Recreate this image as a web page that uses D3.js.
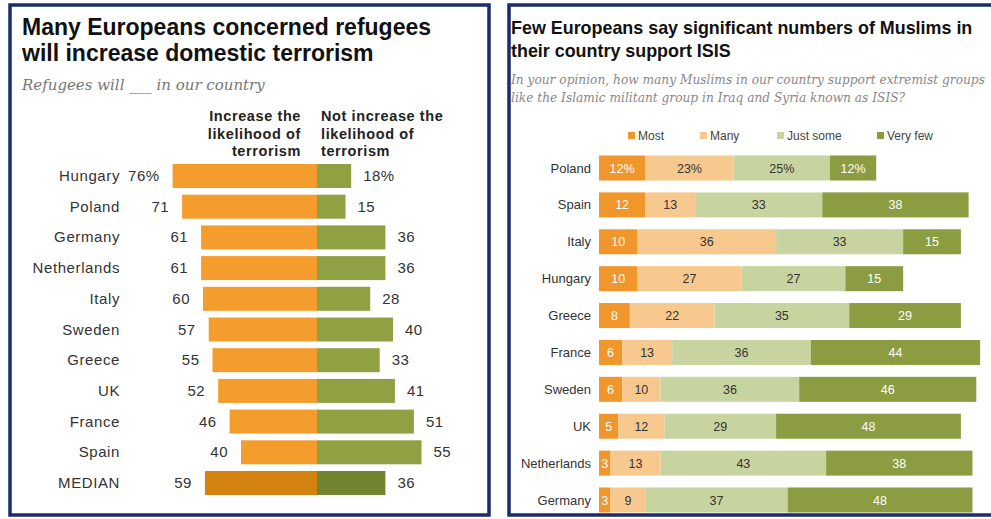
<!DOCTYPE html>
<html>
<head>
<meta charset="utf-8">
<script src="https://cdn.jsdelivr.net/npm/d3@7"></script>
<style>
  body { margin: 0; background: #fff; }
  svg { display: block; font-family: "Liberation Sans", Arial, sans-serif; }
</style>
</head>
<body>
<div id="chart-area"></div>
<script>
// Left chart data
var leftCountries = ["Hungary", "Poland", "Germany", "Netherlands", "Italy", "Sweden",
                     "Greece", "UK", "France", "Spain", "MEDIAN"];
var increase = [76, 71, 61, 61, 60, 57, 55, 52, 46, 40, 59];
var notIncrease = [18, 15, 36, 36, 28, 40, 33, 41, 51, 55, 36];

// Right chart data
var rightCountries = ["Poland", "Spain", "Italy", "Hungary", "Greece", "France",
                      "Sweden", "UK", "Netherlands", "Germany"];
var seriesNames = ["Most", "Many", "Just some", "Very few"];
var most = [12, 12, 10, 10, 8, 6, 6, 5, 3, 3];
var many = [23, 13, 36, 27, 22, 13, 10, 12, 13, 9];
var justSome = [25, 33, 33, 27, 35, 36, 36, 29, 43, 37];
var veryFew = [12, 38, 15, 15, 29, 44, 46, 48, 38, 48];

var svg = d3.select("#chart-area")
    .append("svg")
        .attr("width", 991)
        .attr("height", 519);

var navy = "#1b2b6b";

// panel frames
svg.append("rect")
    .attr("x", 10).attr("y", 5)
    .attr("width", 479).attr("height", 510)
    .attr("fill", "none").attr("stroke", navy).attr("stroke-width", 3.5);

svg.append("rect")
    .attr("x", 509).attr("y", 5)
    .attr("width", 500).attr("height", 510)
    .attr("fill", "none").attr("stroke", navy).attr("stroke-width", 3.5);

/* ---------------- Left panel ---------------- */
var L = svg.append("g");

L.append("text")
    .attr("x", 22).attr("y", 35)
    .attr("font-size", "23px").attr("font-weight", "bold").attr("fill", "#111")
    .text("Many Europeans concerned refugees");
L.append("text")
    .attr("x", 22).attr("y", 61)
    .attr("font-size", "23px").attr("font-weight", "bold").attr("fill", "#111")
    .text("will increase domestic terrorism");

L.append("text")
    .attr("x", 22).attr("y", 90)
    .attr("font-family", "'DejaVu Serif', Georgia, serif")
    .attr("font-style", "italic")
    .attr("font-size", "15px").attr("fill", "#777")
    .text("Refugees will ___ in our country");

var hdrL = ["Increase the", "likelihood of", "terrorism"];
var hdrR = ["Not increase the", "likelihood of", "terrorism"];
hdrL.forEach(function(t, i) {
    L.append("text")
        .attr("x", 301).attr("y", 121 + i * 17.5)
        .attr("text-anchor", "end")
        .attr("font-size", "14.5px").attr("font-weight", "bold").attr("fill", "#222")
        .attr("letter-spacing", "0.6px")
        .text(t);
});
hdrR.forEach(function(t, i) {
    L.append("text")
        .attr("x", 321).attr("y", 121 + i * 17.5)
        .attr("font-size", "14.5px").attr("font-weight", "bold").attr("fill", "#222")
        .attr("letter-spacing", "0.6px")
        .text(t);
});

var center = 317;
var xL = d3.scaleLinear().domain([0, 100]).range([0, 190]);
var yL = d3.scalePoint().domain(leftCountries).range([176, 483]);
var barH = 24;

var leftData = leftCountries.map(function(c, i) {
    return { country: c, inc: increase[i], not: notIncrease[i], median: c === "MEDIAN" };
});

var rowsL = L.selectAll(".rowL").data(leftData).enter().append("g").attr("class", "rowL");

rowsL.append("rect")
    .attr("x", function(d) { return center - xL(d.inc); })
    .attr("y", function(d) { return yL(d.country) - barH / 2; })
    .attr("width", function(d) { return xL(d.inc); })
    .attr("height", barH)
    .attr("fill", function(d) { return d.median ? "#d4820f" : "#f49c2c"; });

rowsL.append("rect")
    .attr("x", center)
    .attr("y", function(d) { return yL(d.country) - barH / 2; })
    .attr("width", function(d) { return xL(d.not); })
    .attr("height", barH)
    .attr("fill", function(d) { return d.median ? "#72842f" : "#8fa143"; });

rowsL.append("text")
    .attr("x", 120)
    .attr("y", function(d) { return yL(d.country) + 5; })
    .attr("text-anchor", "end")
    .attr("font-size", "15px").attr("fill", "#333")
    .attr("letter-spacing", "0.6px")
    .text(function(d) { return d.country; });

rowsL.append("text")
    .attr("x", function(d) { return center - xL(d.inc) - 13; })
    .attr("y", function(d) { return yL(d.country) + 5; })
    .attr("text-anchor", "end")
    .attr("font-size", "15px").attr("fill", "#333")
    .attr("letter-spacing", "0.5px")
    .text(function(d, i) { return i === 0 ? d.inc + "%" : d.inc; });

rowsL.append("text")
    .attr("x", function(d) { return center + xL(d.not) + 12; })
    .attr("y", function(d) { return yL(d.country) + 5; })
    .attr("font-size", "15px").attr("fill", "#333")
    .attr("letter-spacing", "0.5px")
    .text(function(d, i) { return i === 0 ? d.not + "%" : d.not; });

/* ---------------- Right panel ---------------- */
var R = svg.append("g");

R.append("text")
    .attr("x", 511).attr("y", 34)
    .attr("font-size", "17.9px").attr("font-weight", "bold").attr("fill", "#111")
    .text("Few Europeans say significant numbers of Muslims in");
R.append("text")
    .attr("x", 511).attr("y", 57)
    .attr("font-size", "17.9px").attr("font-weight", "bold").attr("fill", "#111")
    .text("their country support ISIS");

R.append("text")
    .attr("x", 511).attr("y", 84)
    .attr("font-family", "'DejaVu Serif', Georgia, serif")
    .attr("font-style", "italic")
    .attr("font-size", "12.2px").attr("fill", "#888")
    .text("In your opinion, how many Muslims in our country support extremist groups");
R.append("text")
    .attr("x", 511).attr("y", 102)
    .attr("font-family", "'DejaVu Serif', Georgia, serif")
    .attr("font-style", "italic")
    .attr("font-size", "12.2px").attr("fill", "#888")
    .text("like the Islamic militant group in Iraq and Syria known as ISIS?");

var colors = ["#f0962a", "#f8c98e", "#c8d49f", "#8c9c40"];
var textColors = ["#fff", "#333", "#333", "#fff"];

var color = d3.scaleOrdinal().domain(seriesNames).range(colors);

// legend
var legendX = [628, 700, 777, 877];
var legend = R.selectAll(".legend").data(seriesNames).enter().append("g")
    .attr("class", "legend")
    .attr("transform", function(d, i) { return "translate(" + legendX[i] + ",136)"; });
legend.append("rect")
    .attr("x", 0).attr("y", -4)
    .attr("width", 7).attr("height", 7)
    .attr("fill", function(d) { return color(d); });
legend.append("text")
    .attr("x", 10).attr("y", 4)
    .attr("font-size", "12px").attr("fill", "#444")
    .text(function(d) { return d; });

var x0 = 599;
var xR = d3.scaleLinear().domain([0, 100]).range([0, 385]);
var yR = d3.scalePoint().domain(rightCountries).range([168, 500]);
var barHR = 25;

var table = rightCountries.map(function(c, i) {
    return { country: c, "Most": most[i], "Many": many[i], "Just some": justSome[i], "Very few": veryFew[i] };
});
var stacked = d3.stack().keys(seriesNames)(table);

var layers = R.selectAll(".layer").data(stacked).enter().append("g")
    .attr("class", "layer")
    .attr("fill", function(d) { return color(d.key); });

layers.selectAll("rect").data(function(d) { return d; }).enter().append("rect")
    .attr("x", function(d) { return x0 + xR(d[0]); })
    .attr("y", function(d) { return yR(d.data.country) - barHR / 2; })
    .attr("width", function(d) { return xR(d[1] - d[0]); })
    .attr("height", barHR);

stacked.forEach(function(layer, k) {
    R.selectAll(".lbl" + k).data(layer).enter().append("text")
        .attr("class", "lbl" + k)
        .attr("x", function(d) { return x0 + xR((d[0] + d[1]) / 2); })
        .attr("y", function(d) { return yR(d.data.country) + 4.5; })
        .attr("text-anchor", "middle")
        .attr("font-size", "12.5px")
        .attr("fill", textColors[k])
        .text(function(d, i) { return (d[1] - d[0]) + (i === 0 ? "%" : ""); });
});

R.selectAll(".cname").data(rightCountries).enter().append("text")
    .attr("class", "cname")
    .attr("x", 591)
    .attr("y", function(d) { return yR(d) + 4.5; })
    .attr("text-anchor", "end")
    .attr("font-size", "13px").attr("fill", "#333")
    .text(function(d) { return d; });
</script>
</body>
</html>
